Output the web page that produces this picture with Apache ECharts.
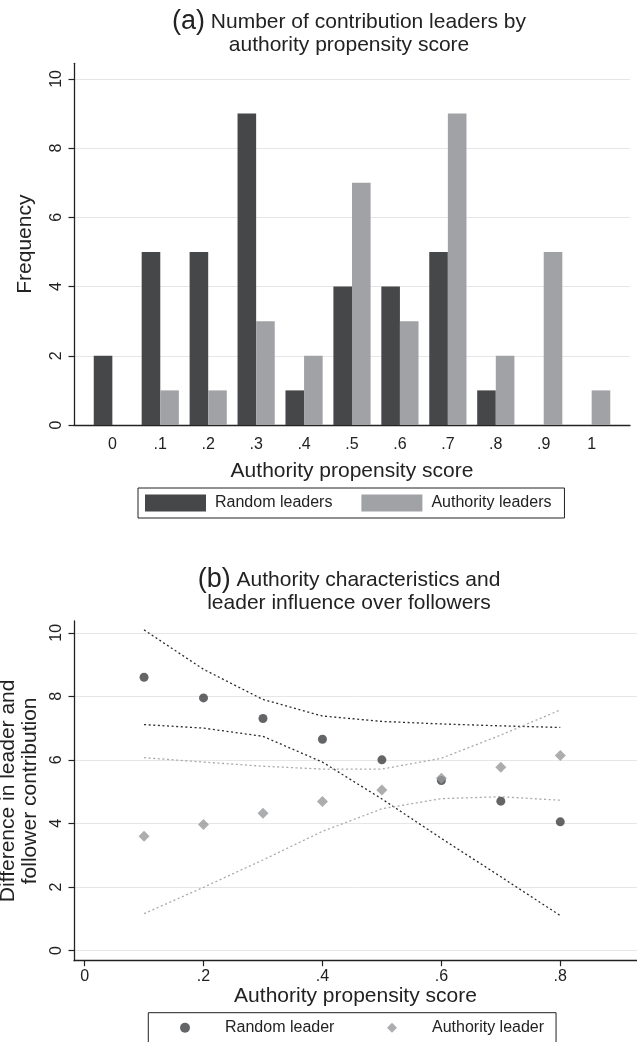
<!DOCTYPE html>
<html><head><meta charset="utf-8">
<script src="https://cdn.jsdelivr.net/npm/echarts@6/dist/echarts.min.js"></script>
<style>html,body{margin:0;padding:0;background:#fff}#c{width:637px;height:1042px}</style>
</head><body><div id="c"></div>
<script>
// ---- Panel (a) data ----
const scoreCategories = [0, 0.1, 0.2, 0.3, 0.4, 0.5, 0.6, 0.7, 0.8, 0.9, 1];
const randomLeaderCounts = [2, 5, 5, 9, 1, 4, 4, 5, 1, 0, 0];
const authorityLeaderCounts = [0, 1, 1, 3, 2, 7, 3, 9, 2, 5, 1];
const scoreTicksA = [0, 0.1, 0.2, 0.3, 0.4, 0.5, 0.6, 0.7, 0.8, 0.9, 1];

// ---- Panel (b) data ----
const propensityB = [0.1, 0.2, 0.3, 0.4, 0.5, 0.6, 0.7, 0.8];
const randomLeaderDiff = [8.60, 7.95, 7.30, 6.65, 6.00, 5.35, 4.70, 4.05];
const authorityLeaderDiff = [3.60, 3.97, 4.32, 4.69, 5.05, 5.42, 5.77, 6.14];
const randomUpper = [10.09, 8.85, 7.90, 7.38, 7.21, 7.13, 7.07, 7.02];
const randomLower = [7.11, 7.00, 6.74, 5.93, 4.77, 3.53, 2.32, 1.10];
const authorityUpper = [6.07, 5.93, 5.80, 5.71, 5.71, 6.05, 6.78, 7.57];
const authorityLower = [1.16, 1.99, 2.85, 3.75, 4.46, 4.78, 4.84, 4.73];
const scoreTicksB = [0, 0.2, 0.4, 0.6, 0.8];
const diffTicks = [0, 2, 4, 6, 8, 10];

const FONT = 'Liberation Sans, Arial, Helvetica, sans-serif';
const TXT = '#222';
const DARK = '#464749';
const LIGHT = '#a1a2a5';

function fmt(v) {
  if (v === 0) return '0';
  if (v === 1) return '1';
  return (Math.round(v * 10) / 10).toString().replace(/^0\./, '.');
}
const pairs = (xs, ys) => xs.map((x, i) => [x, ys[i]]);

const axisLine = () => ({ show: true, onZero: false, lineStyle: { color: TXT, width: 1.3 } });
const tick = (vals) => ({ show: true, length: 5.5, customValues: vals, lineStyle: { color: TXT, width: 1.2 } });
const gridLine = () => ({ show: true, lineStyle: { color: '#e6e6e6', width: 1 } });

const chart = echarts.init(document.getElementById('c'), null, { renderer: 'canvas' });
chart.setOption({
  backgroundColor: '#fff',
  animation: false,
  textStyle: { fontFamily: FONT, color: TXT },
  title: [
    {
      text: '{p|(a)} Number of contribution leaders by\nauthority propensity score',
      left: 349, top: 10, textAlign: 'center', padding: 0,
      textStyle: { fontFamily: FONT, fontSize: 21, fontWeight: 'normal', color: TXT, lineHeight: 23.5,
        rich: { p: { fontFamily: FONT, fontSize: 27, color: TXT, lineHeight: 23.5 } } }
    },
    {
      text: '{p|(b)} Authority characteristics and\nleader influence over followers',
      left: 349, top: 568, textAlign: 'center', padding: 0,
      textStyle: { fontFamily: FONT, fontSize: 21, fontWeight: 'normal', color: TXT, lineHeight: 23.5,
        rich: { p: { fontFamily: FONT, fontSize: 27, color: TXT, lineHeight: 23.5 } } }
    }
  ],
  grid: [
    { left: 74, right: 7, top: 63.3, height: 361.7, containLabel: false, outerBoundsMode: 'none' },
    { left: 74, right: 0, top: 621, height: 339.7, containLabel: false, outerBoundsMode: 'none' }
  ],
  legend: [
    {
      data: ['Random leaders', 'Authority leaders'],
      left: 138, top: 488, orient: 'horizontal',
      padding: [6.5, 13, 6.5, 7], itemWidth: 61, itemHeight: 17, itemGap: 29,
      icon: 'rect', borderColor: TXT, borderWidth: 1, borderRadius: 0,
      textStyle: { fontFamily: FONT, fontSize: 16, color: TXT, padding: [0, 0, 0, 4] }
    },
    {
      data: [{ name: 'Random leader', icon: 'circle' }, { name: 'Authority leader', icon: 'diamond' }],
      left: 148.3, top: 1012.7, orient: 'horizontal',
      padding: [7, 12, 12, 31.7], itemWidth: 10, itemHeight: 10, itemGap: 52.6,
      borderColor: TXT, borderWidth: 1, borderRadius: 0,
      textStyle: { fontFamily: FONT, fontSize: 16, color: TXT, padding: [0, 0, 0, 30] }
    }
  ],
  xAxis: [
    {
      gridIndex: 0, type: 'value', position: 'bottom', min: -0.08, max: 1.08,
      axisLine: axisLine(), axisTick: { show: false, customValues: scoreTicksA },
      axisLabel: { customValues: scoreTicksA, formatter: fmt, fontSize: 16, color: TXT, margin: 12, fontFamily: FONT },
      splitLine: { show: false },
      name: 'Authority propensity score', nameLocation: 'middle', nameGap: 36,
      nameTextStyle: { fontSize: 21, color: TXT, fontFamily: FONT }
    },
    {
      gridIndex: 1, type: 'value', position: 'bottom', min: -0.0178, max: 0.929,
      axisLine: axisLine(), axisTick: tick(scoreTicksB),
      axisLabel: { customValues: scoreTicksB, formatter: fmt, fontSize: 16, color: TXT, margin: 8, fontFamily: FONT },
      splitLine: { show: false },
      name: 'Authority propensity score', nameLocation: 'middle', nameGap: 24,
      nameTextStyle: { fontSize: 21, color: TXT, fontFamily: FONT }
    }
  ],
  yAxis: [
    {
      gridIndex: 0, type: 'value', position: 'left', min: 0, max: 10.45,
      axisLine: axisLine(), axisTick: tick(diffTicks),
      axisLabel: { customValues: diffTicks, rotate: 90, fontSize: 16, color: TXT, margin: 9, fontFamily: FONT },
      splitLine: gridLine(),
      name: 'Frequency', nameLocation: 'middle', nameGap: 38,
      nameTextStyle: { fontSize: 21, color: TXT, fontFamily: FONT }
    },
    {
      gridIndex: 1, type: 'value', position: 'left', min: -0.32, max: 10.37,
      axisLine: axisLine(), axisTick: tick(diffTicks),
      axisLabel: { customValues: diffTicks, rotate: 90, fontSize: 16, color: TXT, margin: 9, fontFamily: FONT },
      splitLine: gridLine(),
      name: 'Difference in leader and\nfollower contribution', nameLocation: 'middle', nameGap: 33,
      nameTextStyle: { fontSize: 21, color: TXT, fontFamily: FONT, lineHeight: 22 }
    }
  ],
  series: [
    { name: 'Random leaders', type: 'bar', xAxisIndex: 0, yAxisIndex: 0,
      data: pairs(scoreCategories, randomLeaderCounts), barWidth: 18.6, barGap: '0%',
      itemStyle: { color: DARK } },
    { name: 'Authority leaders', type: 'bar', xAxisIndex: 0, yAxisIndex: 0,
      data: pairs(scoreCategories, authorityLeaderCounts), barWidth: 18.6, barGap: '0%',
      itemStyle: { color: LIGHT } },

    { name: 'Random CI upper', type: 'line', xAxisIndex: 1, yAxisIndex: 1, data: pairs(propensityB, randomUpper),
      symbol: 'none', lineStyle: { color: '#2b2b2b', width: 1.3, type: [2, 2.6] }, z: 2 },
    { name: 'Random CI lower', type: 'line', xAxisIndex: 1, yAxisIndex: 1, data: pairs(propensityB, randomLower),
      symbol: 'none', lineStyle: { color: '#2b2b2b', width: 1.3, type: [2, 2.6] }, z: 2 },
    { name: 'Authority CI upper', type: 'line', xAxisIndex: 1, yAxisIndex: 1, data: pairs(propensityB, authorityUpper),
      symbol: 'none', lineStyle: { color: '#a9a9a9', width: 1.3, type: [2, 2.6] }, z: 2 },
    { name: 'Authority CI lower', type: 'line', xAxisIndex: 1, yAxisIndex: 1, data: pairs(propensityB, authorityLower),
      symbol: 'none', lineStyle: { color: '#a9a9a9', width: 1.3, type: [2, 2.6] }, z: 2 },

    { name: 'Random leader', type: 'scatter', xAxisIndex: 1, yAxisIndex: 1, data: pairs(propensityB, randomLeaderDiff),
      symbol: 'circle', symbolSize: 9, itemStyle: { color: '#3d3e40' }, z: 4 },
    { name: 'Authority leader', type: 'scatter', xAxisIndex: 1, yAxisIndex: 1, data: pairs(propensityB, authorityLeaderDiff),
      symbol: 'diamond', symbolSize: 11, itemStyle: { color: '#97989b' }, z: 5 }
  ]
});
</script>
</body></html>
